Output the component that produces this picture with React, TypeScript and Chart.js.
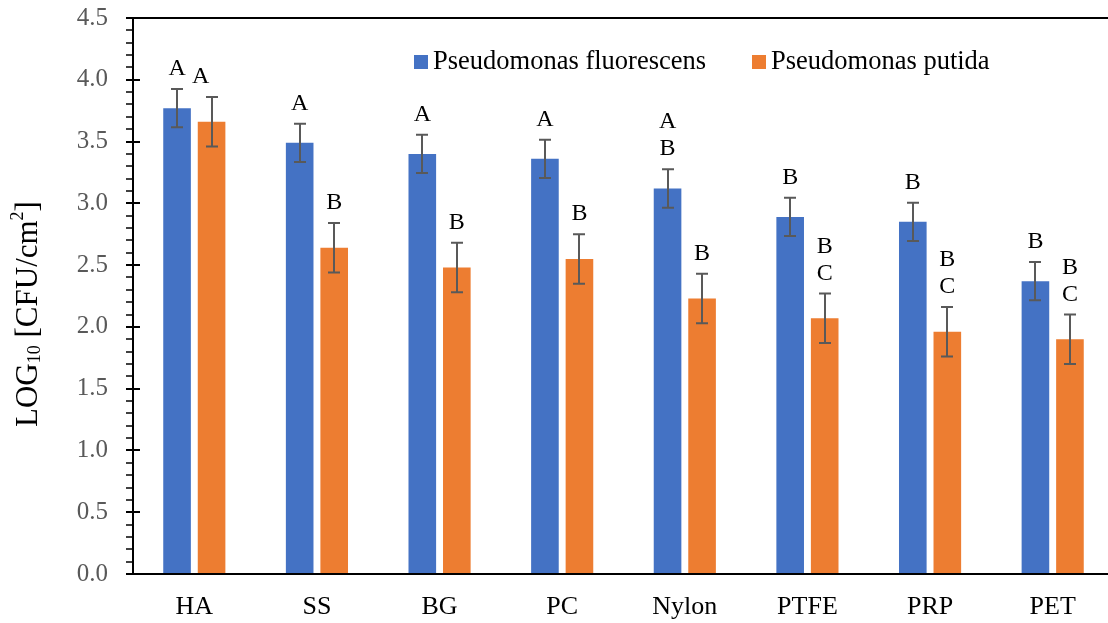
import React, { useEffect, useRef } from "react";
import { Chart, registerables } from "chart.js";

Chart.register(...registerables);

// Surfaces tested
const categories = ["HA", "SS", "BG", "PC", "Nylon", "PTFE", "PRP", "PET"];

// Mean LOG10 [CFU/cm2] per surface
const fluorescens = [3.77, 3.49, 3.4, 3.36, 3.12, 2.89, 2.85, 2.37];
const putida = [3.66, 2.64, 2.48, 2.55, 2.23, 2.07, 1.96, 1.9];

// Standard deviations (error bars)
const fluorescensErr = [0.155, 0.155, 0.155, 0.155, 0.155, 0.155, 0.155, 0.155];
const putidaErr = [0.2, 0.2, 0.2, 0.2, 0.2, 0.2, 0.2, 0.2];

// Statistical grouping letters shown above each bar
const fluorescensGroups = [["A"], ["A"], ["A"], ["A"], ["A", "B"], ["B"], ["B"], ["B"]];
const putidaGroups = [["A"], ["B"], ["B"], ["B"], ["B"], ["B", "C"], ["B", "C"], ["B", "C"]];

const seriesNames = ["Pseudomonas fluorescens", "Pseudomonas putida"];

// Y axis range and tick spacing
const yMin = 0;
const yMax = 4.5;
const yStep = 0.5;
const yMinorStep = 0.1;

const BLUE = "#4472C4";
const ORANGE = "#ED7D31";
const SERIF = '"Liberation Serif", "Times New Roman", serif';

const values = [fluorescens, putida];
const errors = [fluorescensErr, putidaErr];
const groups = [fluorescensGroups, putidaGroups];
const colors = [BLUE, ORANGE];

const decorations = {
  id: "decorations",
  afterDatasetsDraw(chart: any) {
    const ctx = chart.ctx as CanvasRenderingContext2D;
    const y = chart.scales.y;

    // Error bars
    ctx.save();
    ctx.strokeStyle = "#595959";
    ctx.lineWidth = 2;
    values.forEach((series, di) => {
      const meta = chart.getDatasetMeta(di);
      meta.data.forEach((bar: any, i: number) => {
        const v = series[i];
        const e = errors[di][i];
        const x = Math.round(bar.x);
        const yt = y.getPixelForValue(v + e);
        const yb = y.getPixelForValue(v - e);
        ctx.beginPath();
        ctx.moveTo(x, yt);
        ctx.lineTo(x, yb);
        ctx.moveTo(x - 6, yt);
        ctx.lineTo(x + 6, yt);
        ctx.moveTo(x - 6, yb);
        ctx.lineTo(x + 6, yb);
        ctx.stroke();
      });
    });
    ctx.restore();

    // Grouping letters above the error bars
    ctx.save();
    ctx.fillStyle = "#000";
    ctx.font = `24px ${SERIF}`;
    ctx.textAlign = "center";
    ctx.textBaseline = "alphabetic";
    const lineGap = 27;
    values.forEach((series, di) => {
      const meta = chart.getDatasetMeta(di);
      meta.data.forEach((bar: any, i: number) => {
        const top = y.getPixelForValue(series[i] + errors[di][i]);
        const lines = groups[di][i];
        // the first putida label sits slightly left so it clears its neighbour
        const dx = di === 1 && i === 0 ? -11 : 0;
        const base = top - 14;
        lines.forEach((txt: string, li: number) => {
          ctx.fillText(txt, bar.x + dx, base - (lines.length - 1 - li) * lineGap);
        });
      });
    });
    ctx.restore();
  },
  afterDraw(chart: any) {
    const ctx = chart.ctx as CanvasRenderingContext2D;
    const { left, right, top, bottom } = chart.chartArea;
    const y = chart.scales.y;

    // Frame: top line, y axis, x axis
    ctx.save();
    ctx.strokeStyle = "#000";
    ctx.lineWidth = 2;
    ctx.beginPath();
    ctx.moveTo(left, top);
    ctx.lineTo(right, top);
    ctx.moveTo(left, top);
    ctx.lineTo(left, bottom);
    ctx.moveTo(left - 7, bottom);
    ctx.lineTo(right, bottom);
    ctx.stroke();

    // Major (crossing) and minor (outside) tick marks
    const n = Math.round((yMax - yMin) / yMinorStep);
    const perMajor = Math.round(yStep / yMinorStep);
    for (let k = 0; k <= n; k++) {
      const py = Math.round(y.getPixelForValue(yMin + k * yMinorStep));
      const major = k % perMajor === 0;
      ctx.lineWidth = major ? 2 : 1.5;
      ctx.beginPath();
      ctx.moveTo(left - 7, py);
      ctx.lineTo(major ? left + 7 : left, py);
      ctx.stroke();
    }
    ctx.restore();

    // Legend inside the plot area
    ctx.save();
    ctx.font = `26.5px ${SERIF}`;
    ctx.textBaseline = "alphabetic";
    ctx.textAlign = "left";
    const legendX = [left + 281, left + 619];
    const legendBase = top + 51;
    seriesNames.forEach((name, i) => {
      ctx.fillStyle = colors[i];
      ctx.fillRect(legendX[i], legendBase - 14, 14, 14);
      ctx.fillStyle = "#000";
      ctx.fillText(name, legendX[i] + 19, legendBase);
    });
    ctx.restore();

    // Y axis title: LOG10 [CFU/cm2] with subscript and superscript
    ctx.save();
    const parts = [
      { t: "LOG", size: 31, dy: 0 },
      { t: "10", size: 18, dy: 3 },
      { t: " [CFU/cm", size: 31, dy: 0 },
      { t: "2", size: 18, dy: -14 },
      { t: "]", size: 31, dy: 0 },
    ];
    let total = 0;
    parts.forEach((p) => {
      ctx.font = `${p.size}px ${SERIF}`;
      total += ctx.measureText(p.t).width;
    });
    const centerY = (top + bottom) / 2 + 18;
    ctx.translate(37, centerY + total / 2);
    ctx.rotate(-Math.PI / 2);
    ctx.fillStyle = "#000";
    ctx.textBaseline = "alphabetic";
    let cx = 0;
    parts.forEach((p) => {
      ctx.font = `${p.size}px ${SERIF}`;
      ctx.fillText(p.t, cx, p.dy);
      cx += ctx.measureText(p.t).width;
    });
    ctx.restore();
  },
};

export default function App() {
  const canvasRef = useRef<HTMLCanvasElement | null>(null);

  useEffect(() => {
    if (!canvasRef.current) return;
    const chart = new Chart(canvasRef.current, {
      type: "bar",
      data: {
        labels: categories,
        datasets: values.map((series, i) => ({
          label: seriesNames[i],
          data: series,
          backgroundColor: colors[i],
          borderWidth: 0,
          categoryPercentage: 0.563,
          barPercentage: 0.8,
        })),
      },
      options: {
        responsive: false,
        animation: false,
        devicePixelRatio: 1,
        layout: { padding: { left: 0, top: 18, right: 6, bottom: 0 } },
        plugins: {
          legend: { display: false },
          tooltip: { enabled: false },
          title: { display: false },
        },
        scales: {
          x: {
            grid: { display: false, drawTicks: false },
            border: { display: false },
            ticks: {
              color: "#000",
              font: { family: SERIF, size: 26 },
              padding: 18,
              maxRotation: 0,
            },
            afterFit: (scale: any) => {
              scale.height = 49;
              scale.paddingLeft = 0;
              scale.paddingRight = 0;
            },
          },
          y: {
            min: yMin,
            max: yMax,
            grid: { display: false, drawTicks: false },
            border: { display: false },
            ticks: {
              stepSize: yStep,
              color: "#595959",
              font: { family: SERIF, size: 25 },
              padding: 25,
              callback: (v: any) => Number(v).toFixed(1),
            },
            afterFit: (scale: any) => {
              scale.width = 133;
              scale.paddingTop = 0;
              scale.paddingBottom = 0;
            },
          },
        },
      },
      plugins: [decorations],
    });
    return () => chart.destroy();
  }, []);

  return (
    <div
      style={{
        position: "fixed",
        left: 0,
        top: 0,
        width: 1108,
        height: 623,
        overflow: "hidden",
        background: "#fff",
      }}
    >
      <canvas ref={canvasRef} width={1120} height={623} style={{ display: "block" }} />
    </div>
  );
}
